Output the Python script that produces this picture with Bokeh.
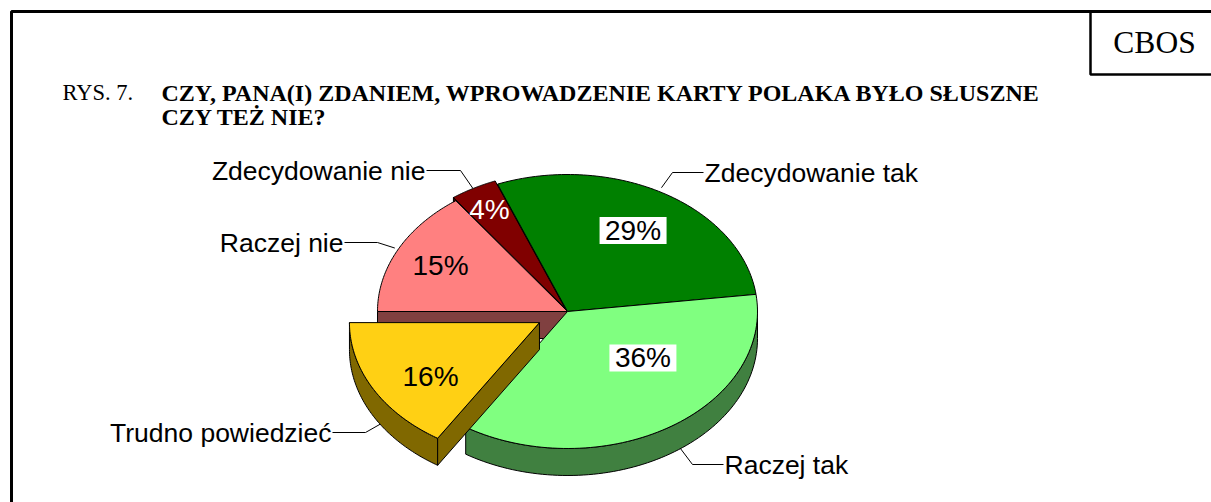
import numpy as np
from bokeh.plotting import figure
from bokeh.models import Range1d
from bokeh.core.properties import value
from bokeh.embed import file_html
from bokeh.resources import INLINE

# ---------------- data ----------------
categories = ["Zdecydowanie tak", "Raczej tak", "Trudno powiedzieć", "Raczej nie", "Zdecydowanie nie"]
values = [29, 36, 16, 15, 4]
pct_labels = ["29%", "36%", "16%", "15%", "4%"]
title_prefix = "RYS. 7."
title_lines = ["CZY, PANA(I) ZDANIEM, WPROWADZENIE KARTY POLAKA BYŁO SŁUSZNE", "CZY TEŻ NIE?"]
source_tag = "CBOS"

# ---------------- style / layout ----------------
top_colors = ["#008000", "#80ff80", "#ffd014", "#ff8080", "#800000"]
side_colors = ["#004000", "#408040", "#806800", "#804040", "#400000"]
pct_colors = ["black", "black", "black", "black", "white"]
pct_boxed = [True, True, False, False, False]
explode = [0, 0, 32, 0, 5]
CX, CY, RX, RY, D = 567, 311, 190, 137, 27
START = -21.6  # degrees, clockwise from 12 o'clock
# label placement (polar: angle, radius fraction) relative to slice centre
pct_place = [(30.3, 0.684), (130.5, 0.522), (235.6, 0.695), (296.7, 0.748), (331.2, 0.827)]
# leaders: anchor angle, anchor radius, anchor depth, elbow x, elbow y, text x, align
leaders = [
    (28.7, 1.03, 0, 672, 172, 704, "left"),
    (143.5, 1.0, D, 692, 464, 724, "left"),
    (237.0, 1.0, D, 365, 432, 331, "right"),
    (297.0, 1.02, 0, 377, 242, 343, "right"),
    (331.0, 1.0, 0, 460, 170, 425, "right"),
]

W, H = 1211, 502
p = figure(width=W, height=H, x_range=Range1d(0, W), y_range=Range1d(H, 0),
           output_backend="svg", toolbar_location=None, min_border=0,
           x_axis_location=None, y_axis_location=None)
p.grid.visible = False
p.outline_line_color = None
p.background_fill_color = "white"
p.border_fill_color = "white"

# ---------------- geometry ----------------
total = float(sum(values))
angles = []
a = START
for v in values:
    b = a + 360.0 * v / total
    angles.append((a, b))
    a = b

def centre(i):
    a, b = angles[i]
    m = np.radians((a + b) / 2)
    e = explode[i]
    return CX + e * np.sin(m), CY - e * (RY / RX) * np.cos(m)

def rim(i, theta, r=1.0, dz=0.0):
    ox, oy = centre(i)
    t = np.radians(theta)
    return ox + RX * r * np.sin(t), oy - RY * r * np.cos(t) + dz

def arc(i, a, b, dz=0.0, n=80):
    th = np.linspace(a, b, n)
    xs, ys = rim(i, th, 1.0, dz)
    return list(xs), list(ys)

def top_poly(i):
    a, b = angles[i]
    ox, oy = centre(i)
    xs, ys = arc(i, a, b)
    return [ox] + xs, [oy] + ys

def side_poly(i):
    a, b = angles[i]
    lo, hi = max(a, 90), min(b, 270)
    if lo >= hi:
        return None
    xs, ys = arc(i, lo, hi)
    xb, yb = arc(i, hi, lo, D)
    return xs + xb, ys + yb

def wall_poly(i, theta):
    ox, oy = centre(i)
    rx_, ry_ = rim(i, theta)
    return [ox, rx_, rx_, ox], [oy, ry_, ry_ + D, oy + D]

def draw(poly, color):
    if poly is None:
        return
    p.patch(poly[0], poly[1], fill_color=color, line_color="black", line_width=1)

# painter's order
draw(wall_poly(0, angles[0][0]), side_colors[0])
draw(wall_poly(4, angles[4][0]), side_colors[4])
draw(top_poly(4), top_colors[4])
draw(wall_poly(3, angles[3][0]), side_colors[3])
draw(top_poly(3), top_colors[3])
draw(side_poly(0), side_colors[0])
draw(side_poly(1), side_colors[1])
draw(top_poly(0), top_colors[0])
draw(top_poly(1), top_colors[1])
draw(side_poly(2), side_colors[2])
draw(wall_poly(2, angles[2][0]), side_colors[2])
draw(top_poly(2), top_colors[2])

# ---------------- percentage labels ----------------
PCT_SIZE = 28
for i, (ang, fr) in enumerate(pct_place):
    x, y = rim(i, ang, fr)
    if pct_boxed[i]:
        p.rect(x=[x], y=[y], width=67, height=27, width_units="screen", height_units="screen",
               fill_color="white", line_color=None)
    p.text(x=[x], y=[y], text=[pct_labels[i]], text_align="center",
           text_baseline="middle", text_font=value("Liberation Sans"),
           text_font_size=f"{PCT_SIZE}px", text_color=pct_colors[i])

# ---------------- category labels with leaders ----------------
LAB_SIZE = 26.5
for i, (ang, r, dz, ex, ey, tx, al) in enumerate(leaders):
    ax, ay = rim(i, ang, r, dz)
    sx = tx + (1 if al == "right" else -1)
    p.line([sx, ex, ax], [ey, ey, ay], line_color="black", line_width=1)
    p.text(x=[tx], y=[ey], text=[categories[i]], text_align=al, text_baseline="middle",
           text_font=value("Liberation Sans"), text_font_size=f"{LAB_SIZE}px", text_color="black")

# ---------------- title & frame ----------------
p.text(x=[62], y=[92], text=[title_prefix], text_font=value("Liberation Serif"),
       text_font_size="22.5px", text_baseline="middle", text_color="black")
p.text(x=[161, 161], y=[92, 116], text=title_lines, text_font=value("Liberation Serif"),
       text_font_size="24px", text_font_style="bold", text_baseline="middle", text_color="black")
p.text(x=[1154], y=[42], text=[source_tag], text_font=value("Liberation Serif"),
       text_font_size="31.5px", text_align="center", text_baseline="middle", text_color="black")

p.line([11, 11, W], [H, 11, 11], line_color="black", line_width=3)
p.line([1090, 1090, W], [11, 74, 74], line_color="black", line_width=2.5)

open("out.html", "w").write(file_html(p, INLINE))
